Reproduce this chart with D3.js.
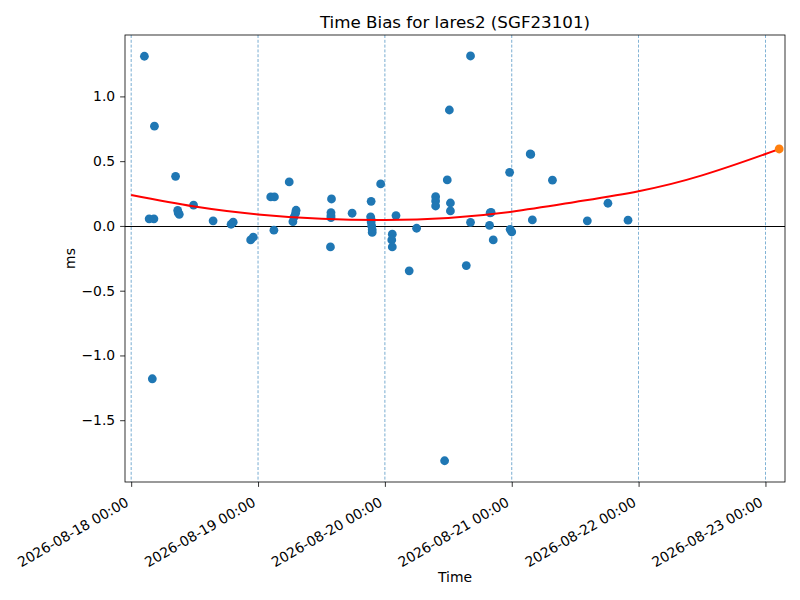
<!DOCTYPE html>
<html>
<head>
<meta charset="utf-8">
<script src="https://cdn.jsdelivr.net/npm/d3@7"></script>
<style>
  body { margin: 0; background: #fff; }
  text { font-family: "DejaVu Sans", sans-serif; }
</style>
</head>
<body>
<script>
// hours after 2026-08-18 00:00 UTC, and time bias in ms
var startDate = "2026-08-18T00:00:00Z";
var obsHours = [2.5, 3.4, 4.3, 4.4, 4.0, 8.4, 8.8, 8.9, 9.1, 11.8, 15.5, 18.9, 19.3, 22.6, 23.1,
  26.4, 27.1, 27.0, 29.9, 30.6, 30.8, 31.1, 31.2, 37.7, 37.9, 37.8, 37.8, 37.8, 41.8, 45.4, 47.2,
  45.3, 45.4, 45.4, 45.5, 45.6, 45.6, 50.1, 49.4, 49.3, 49.4, 54.0, 52.6, 57.6, 57.6, 57.6, 59.8,
  60.4, 60.4, 60.2, 59.3, 63.4, 64.2, 64.2, 67.8, 67.9, 68.1, 68.5, 71.6, 71.7, 72.0, 75.5, 75.6,
  75.9, 79.7, 86.3, 90.2, 94.0];
var obsBias = [1.31, 0.055, 0.055, 0.77, -1.18, 0.383, 0.12, 0.10, 0.09, 0.16, 0.039, 0.013, 0.029, -0.108, -0.087,
  0.224, 0.224, -0.033, 0.34, 0.033, 0.067, 0.098, 0.121, -0.162, 0.208, 0.103, 0.079, 0.064, 0.098, 0.19, 0.324,
  0.07, 0.05, 0.03, 0.0, -0.03, -0.05, 0.08, -0.064, -0.108, -0.162, -0.018, -0.347, 0.226, 0.193, 0.154, 0.355,
  0.177, 0.116, 0.895, -1.813, -0.306, 0.028, 1.312, 0.005, 0.10, 0.105, -0.108, 0.414, -0.026, -0.046, 0.556, 0.552,
  0.046, 0.353, 0.039, 0.175, 0.044];

// fitted trend
var fitHours = [0, 12, 24, 36, 48, 60, 72, 84, 96, 108, 120, 122.6];
var fitBias = [0.239, 0.150, 0.089, 0.055, 0.045, 0.062, 0.110, 0.185, 0.268, 0.39, 0.555, 0.594];

// predicted point at the end of the fit
var predHours = [122.6];
var predBias = [0.594];

var dayLines = ["2026-08-18", "2026-08-19", "2026-08-20", "2026-08-21", "2026-08-22", "2026-08-23"];
var yTicks = [-1.5, -1.0, -0.5, 0.0, 0.5, 1.0];

var margin = { top: 35, right: 15, bottom: 118, left: 125 };
var width = 800 - margin.left - margin.right,
  height = 600 - margin.top - margin.bottom;

var t0 = new Date(startDate);
function toDate(h) {
  return new Date(t0.getTime() + h * 3600 * 1000);
}

var x = d3.scaleUtc()
  .domain([toDate(-1.17), toDate(123.7)])
  .range([0, width]);
var y = d3.scaleLinear().domain([-1.977, 1.474]).range([height, 0]);

var svg = d3.select("body")
  .append("svg")
  .attr("width", 800)
  .attr("height", 600);

var g = svg.append("g")
  .attr("transform", "translate(" + margin.left + "," + margin.top + ")");

// day separators
g.selectAll(".dayline")
  .data(dayLines)
  .enter()
  .append("line")
  .attr("class", "dayline")
  .attr("x1", function (d) { return x(new Date(d + "T00:00:00Z")); })
  .attr("x2", function (d) { return x(new Date(d + "T00:00:00Z")); })
  .attr("y1", 0)
  .attr("y2", height)
  .style("stroke", "#1f77b4")
  .style("stroke-width", 0.7)
  .style("stroke-dasharray", "3,1.8")
  .style("opacity", 0.85);

// zero line
g.append("line")
  .attr("x1", 0)
  .attr("x2", width)
  .attr("y1", Math.round(y(0)) + 0.5)
  .attr("y2", Math.round(y(0)) + 0.5)
  .style("stroke", "#000")
  .style("stroke-width", 1);

// observations
var obs = obsHours.map(function (h, i) { return [toDate(h), obsBias[i]]; });
g.selectAll(".dot")
  .data(obs)
  .enter()
  .append("circle")
  .attr("class", "dot")
  .attr("cx", function (d) { return x(d[0]); })
  .attr("cy", function (d) { return y(d[1]); })
  .attr("r", 4.4)
  .style("fill", "#1f77b4");

// fit curve
var fit = fitHours.map(function (h, i) { return [toDate(h), fitBias[i]]; });
var line = d3.line()
  .x(function (d) { return x(d[0]); })
  .y(function (d) { return y(d[1]); })
  .curve(d3.curveNatural);
g.append("path")
  .datum(fit)
  .attr("d", line)
  .style("fill", "none")
  .style("stroke", "red")
  .style("stroke-width", 2);

// prediction
var pred = predHours.map(function (h, i) { return [toDate(h), predBias[i]]; });
g.selectAll(".pred")
  .data(pred)
  .enter()
  .append("circle")
  .attr("class", "pred")
  .attr("cx", function (d) { return x(d[0]); })
  .attr("cy", function (d) { return y(d[1]); })
  .attr("r", 4.4)
  .style("fill", "#ff7f0e");

// axes
var fmtX = d3.utcFormat("%Y-%m-%d %H:%M");
var xAxis = d3.axisBottom(x)
  .tickValues(dayLines.map(function (d) { return new Date(d + "T00:00:00Z"); }))
  .tickSize(4.9)
  .tickPadding(4.9)
  .tickFormat(fmtX);
var yAxis = d3.axisLeft(y)
  .tickValues(yTicks)
  .tickSize(4.9)
  .tickPadding(4.9)
  .tickFormat(function (d) { return d3.format(".1f")(d).replace("-", "\u2212"); });

var gx = g.append("g")
  .attr("transform", "translate(0," + height + ")")
  .call(xAxis);
gx.select(".domain").remove();
gx.selectAll("line").style("stroke", "#000").style("stroke-width", 0.8);
gx.selectAll("text")
  .style("font-size", "13.9px")
  .style("fill", "#000")
  .attr("text-anchor", "end")
  .attr("dy", null)
  .attr("y", null)
  .attr("transform", "translate(-2,23) rotate(-30)");

var gy = g.append("g").call(yAxis);
gy.select(".domain").remove();
gy.selectAll("line").style("stroke", "#000").style("stroke-width", 0.8);
gy.selectAll("text").style("font-size", "13.9px").style("fill", "#000");

// frame
g.append("rect")
  .attr("width", width)
  .attr("height", height)
  .style("fill", "none")
  .style("stroke", "#000")
  .style("stroke-width", 0.8);

// labels
svg.append("text")
  .attr("x", margin.left + width / 2)
  .attr("y", 28)
  .attr("text-anchor", "middle")
  .style("font-size", "16.7px")
  .text("Time Bias for lares2 (SGF23101)");

svg.append("text")
  .attr("x", margin.left + width / 2)
  .attr("y", 582)
  .attr("text-anchor", "middle")
  .style("font-size", "13.9px")
  .text("Time");

svg.append("text")
  .attr("transform", "translate(75," + (margin.top + height / 2) + ") rotate(-90)")
  .attr("text-anchor", "middle")
  .style("font-size", "13.9px")
  .text("ms");
</script>
</body>
</html>
